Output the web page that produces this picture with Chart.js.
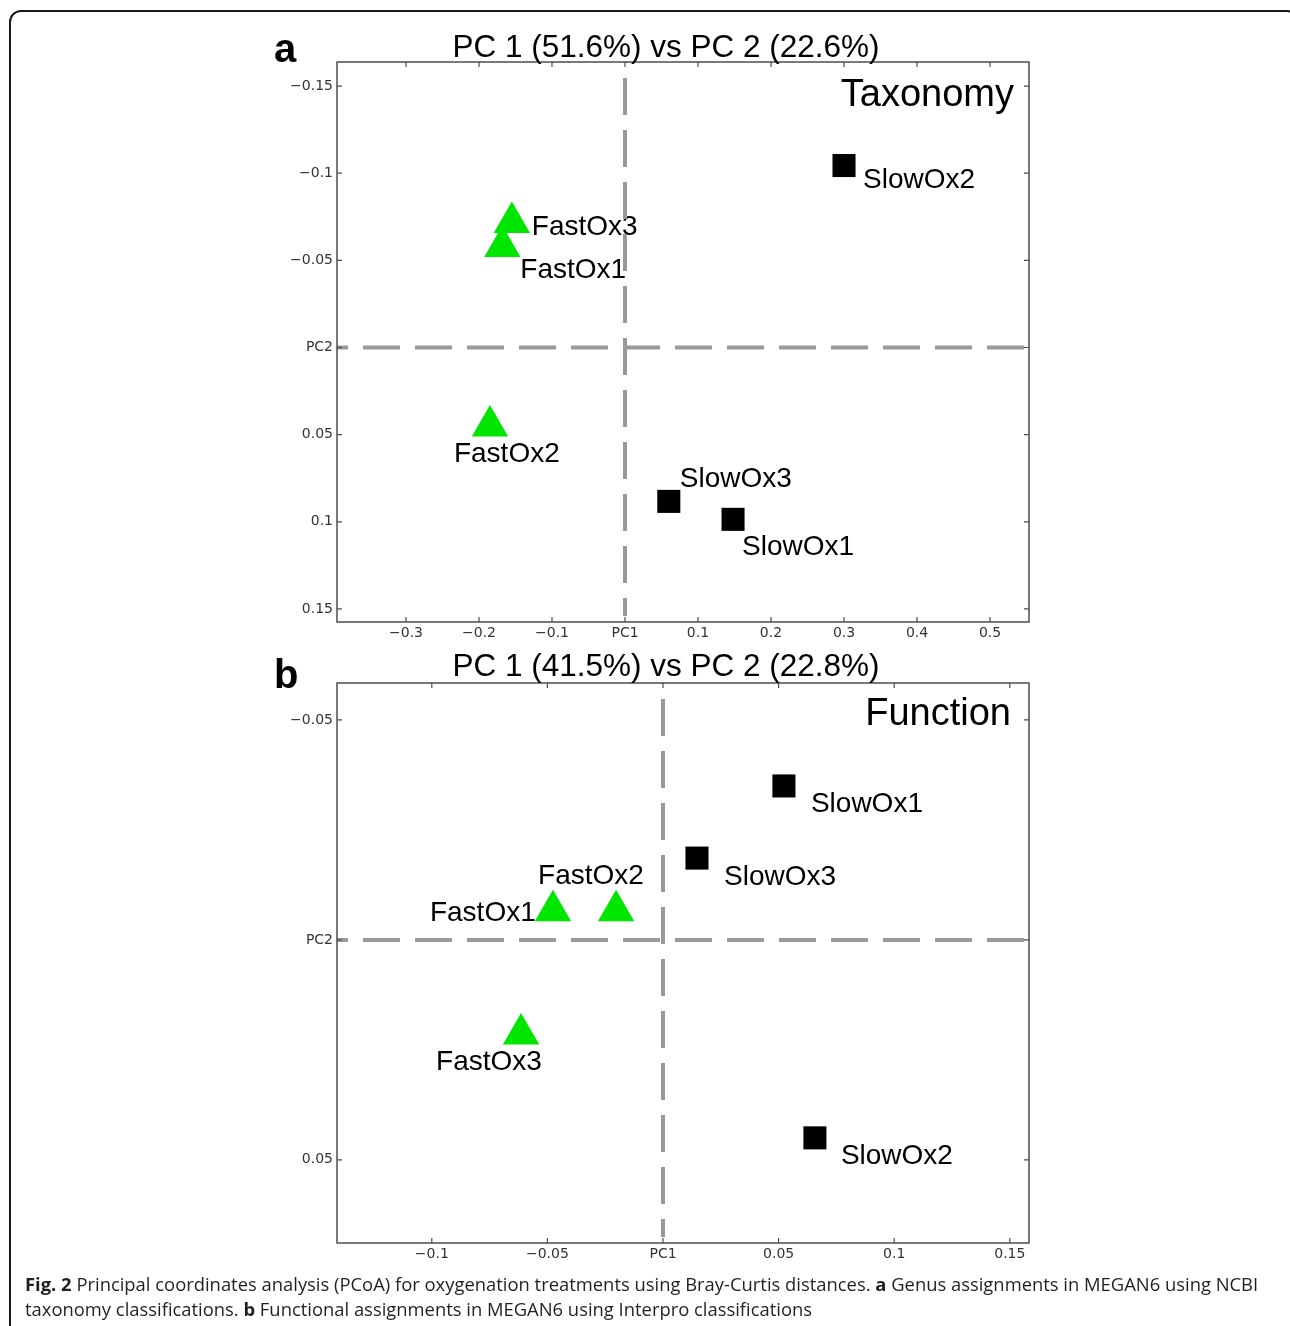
<html>
  <head>
    <meta charset="utf-8" />
    <title>PCoA oxygenation treatments</title>
    <style>
      body {
        margin: 0;
        padding: 0;
        background-color: #ffffff;
        width: 1290px;
        height: 1326px;
        overflow: hidden;
        position: relative;
        font-family: "Liberation Sans", Arial, sans-serif;
      }

      #frame {
        position: absolute;
        left: 9px;
        top: 10px;
        width: 1290px;
        height: 1340px;
        border: 2px solid #1a1a1a;
        border-radius: 12px;
        box-sizing: border-box;
      }

      canvas {
        position: absolute;
        left: 0;
      }

      .panel-letter {
        position: absolute;
        font-weight: bold;
        font-size: 40px;
        line-height: 40px;
        color: #000;
      }

      .panel-title {
        position: absolute;
        width: 600px;
        text-align: center;
        font-size: 31.5px;
        line-height: 32px;
        color: #000;
      }

      .panel-tag {
        position: absolute;
        width: 300px;
        text-align: right;
        font-size: 38px;
        line-height: 38px;
        color: #000;
      }

      #caption {
        position: absolute;
        left: 25px;
        top: 1271px;
        font-family: "Open Sans", sans-serif;
        font-size: 18.4px;
        line-height: 25px;
        color: #231f20;
        white-space: nowrap;
      }
    </style>
    <script src="https://cdn.jsdelivr.net/npm/chart.js"></script>
  </head>
  <body>
    <div id="frame"></div>
    <canvas id="taxChart" width="1290" height="650" style="top:0px"></canvas>
    <canvas id="funChart" width="1290" height="650" style="top:620px"></canvas>

    <div class="panel-letter" style="left:274px; top:28px">a</div>
    <div class="panel-title" style="left:366px; top:30px">PC 1 (51.6%) vs PC 2 (22.6%)</div>
    <div class="panel-tag" style="left:714px; top:74px">Taxonomy</div>

    <div class="panel-letter" style="left:274px; top:654px">b</div>
    <div class="panel-title" style="left:366px; top:649px">PC 1 (41.5%) vs PC 2 (22.8%)</div>
    <div class="panel-tag" style="left:711px; top:693px">Function</div>

    <div id="caption">
      <b>Fig. 2</b> Principal coordinates analysis (PCoA) for oxygenation treatments using Bray-Curtis distances. <b>a</b> Genus assignments in MEGAN6 using NCBI<br />
      taxonomy classifications. <b>b</b> Functional assignments in MEGAN6 using Interpro classifications
    </div>

    <script>
      // sample names
      const fastLabels = ["FastOx1", "FastOx2", "FastOx3"];
      const slowLabels = ["SlowOx1", "SlowOx2", "SlowOx3"];

      // panel a - taxonomy (PC1, PC2)
      const taxFastPC1 = [-0.168, -0.185, -0.155];
      const taxFastPC2 = [-0.058, 0.045, -0.0717];
      const taxSlowPC1 = [0.148, 0.3, 0.06];
      const taxSlowPC2 = [0.0986, -0.1044, 0.0883];

      // panel b - function (PC1, PC2)
      const funFastPC1 = [-0.0476, -0.0203, -0.0614];
      const funFastPC2 = [-0.0066, -0.0066, 0.0214];
      const funSlowPC1 = [0.0523, 0.0657, 0.0147];
      const funSlowPC2 = [-0.035, 0.045, -0.0186];

      // tick values
      const taxXTicks = [-0.3, -0.2, -0.1, 0, 0.1, 0.2, 0.3, 0.4, 0.5];
      const taxYTicks = [-0.15, -0.1, -0.05, 0, 0.05, 0.1, 0.15];
      const funXTicks = [-0.1, -0.05, 0, 0.05, 0.1, 0.15];
      const funYTicks = [-0.05, 0, 0.05];

      // where each name sits relative to its marker (px)
      const taxFastOffsets = [[18, 24], [-36, 28], [20, 5]];
      const taxSlowOffsets = [[9, 28], [19, 15], [11, -22]];
      const funFastOffsets = [[-123, 2], [-78, -35], [-85, 28]];
      const funSlowOffsets = [[27, 18], [26, 18], [27, 19]];

      const toPoints = (xs, ys) => xs.map((x, i) => ({ x: x, y: ys[i] }));

      const tickText = (zeroName) => (v) => {
        if (Math.abs(v) < 1e-9) return zeroName;
        return String(v).replace("-", "\u2212");
      };

      // frame, inward ticks, dashed zero lines and point names
      const pcoaDecor = {
        id: "pcoaDecor",
        afterDatasetsDraw(chart, args, opts) {
          const ctx = chart.ctx;
          const area = chart.chartArea;
          const xs = chart.scales.x;
          const ys = chart.scales.y;

          // point names
          ctx.save();
          ctx.font = "28px 'Liberation Sans', Arial, sans-serif";
          ctx.fillStyle = "#000";
          ctx.textAlign = "left";
          ctx.textBaseline = "middle";
          chart.data.datasets.forEach((ds, i) => {
            const meta = chart.getDatasetMeta(i);
            meta.data.forEach((pt, j) => {
              const off = ds.nameOffsets[j];
              ctx.fillText(ds.names[j], pt.x + off[0], pt.y + off[1]);
            });
          });
          ctx.restore();

          // dashed lines through the origin
          ctx.save();
          ctx.strokeStyle = "#999999";
          ctx.lineWidth = 4;
          ctx.setLineDash([37, 15]);
          const x0 = xs.getPixelForValue(0);
          const y0 = ys.getPixelForValue(0);
          ctx.lineDashOffset = 36;
          ctx.beginPath();
          ctx.moveTo(x0, area.top);
          ctx.lineTo(x0, area.bottom - 6);
          ctx.stroke();
          ctx.lineDashOffset = 26;
          ctx.beginPath();
          ctx.moveTo(area.left, y0);
          ctx.lineTo(area.right, y0);
          ctx.stroke();
          ctx.restore();

          // box and ticks pointing inwards
          ctx.save();
          ctx.strokeStyle = "#4d4d4d";
          ctx.lineWidth = 1.5;
          ctx.strokeRect(area.left, area.top, area.right - area.left, area.bottom - area.top);
          ctx.lineWidth = 1.2;
          ctx.beginPath();
          xs.ticks.forEach((t) => {
            const px = xs.getPixelForValue(t.value);
            ctx.moveTo(px, area.bottom);
            ctx.lineTo(px, area.bottom - 5);
            ctx.moveTo(px, area.top);
            ctx.lineTo(px, area.top + 5);
          });
          ys.ticks.forEach((t) => {
            const py = ys.getPixelForValue(t.value);
            ctx.moveTo(area.left, py);
            ctx.lineTo(area.left + 5, py);
            ctx.moveTo(area.right, py);
            ctx.lineTo(area.right - 5, py);
          });
          ctx.stroke();
          ctx.restore();
        },
      };

      function makePanel(canvasId, cfg) {
        const tickFont = { family: "'DejaVu Sans', sans-serif", size: 14 };
        return new Chart(document.getElementById(canvasId), {
          type: "scatter",
          data: {
            datasets: [
              {
                label: "Fast",
                data: toPoints(cfg.fastX, cfg.fastY),
                names: fastLabels,
                nameOffsets: cfg.fastOffsets,
                pointStyle: "triangle",
                pointRadius: 21,
                backgroundColor: "#00e600",
                borderColor: "#00e600",
                borderWidth: 0,
              },
              {
                label: "Slow",
                data: toPoints(cfg.slowX, cfg.slowY),
                names: slowLabels,
                nameOffsets: cfg.slowOffsets,
                pointStyle: "rect",
                pointRadius: 16.3,
                backgroundColor: "#000000",
                borderColor: "#000000",
                borderWidth: 0,
              },
            ],
          },
          options: {
            responsive: false,
            animation: false,
            layout: { padding: { top: cfg.padTop, right: 261, left: 0, bottom: 0 } },
            plugins: {
              legend: { display: false },
              tooltip: { enabled: false },
              title: { display: false },
            },
            scales: {
              x: {
                type: "linear",
                position: "bottom",
                min: cfg.xMin,
                max: cfg.xMax,
                grid: { display: false },
                border: { display: false },
                ticks: { font: tickFont, color: "#333333", padding: -5, maxRotation: 0, callback: tickText("PC1") },
                afterBuildTicks: (s) => { s.ticks = cfg.xTicks.map((v) => ({ value: v })); },
                afterFit: (s) => { s.height = cfg.xAxisHeight; },
              },
              y: {
                type: "linear",
                position: "left",
                reverse: true,
                min: cfg.yMin,
                max: cfg.yMax,
                grid: { display: false },
                border: { display: false },
                ticks: { font: tickFont, color: "#333333", padding: -4, callback: tickText("PC2") },
                afterBuildTicks: (s) => { s.ticks = cfg.yTicks.map((v) => ({ value: v })); },
                afterFit: (s) => { s.width = 337; },
              },
            },
          },
          plugins: [pcoaDecor],
        });
      }

      makePanel("taxChart", {
        fastX: taxFastPC1, fastY: taxFastPC2, fastOffsets: taxFastOffsets,
        slowX: taxSlowPC1, slowY: taxSlowPC2, slowOffsets: taxSlowOffsets,
        xTicks: taxXTicks, yTicks: taxYTicks,
        xMin: -0.3945, xMax: 0.5534, yMin: -0.1638, yMax: 0.1575,
        padTop: 62, xAxisHeight: 28,
      });

      makePanel("funChart", {
        fastX: funFastPC1, fastY: funFastPC2, fastOffsets: funFastOffsets,
        slowX: funSlowPC1, slowY: funSlowPC2, slowOffsets: funSlowOffsets,
        xTicks: funXTicks, yTicks: funYTicks,
        xMin: -0.141, xMax: 0.1583, yMin: -0.0584, yMax: 0.0689,
        padTop: 63, xAxisHeight: 27,
      });
    </script>
  </body>
</html>
